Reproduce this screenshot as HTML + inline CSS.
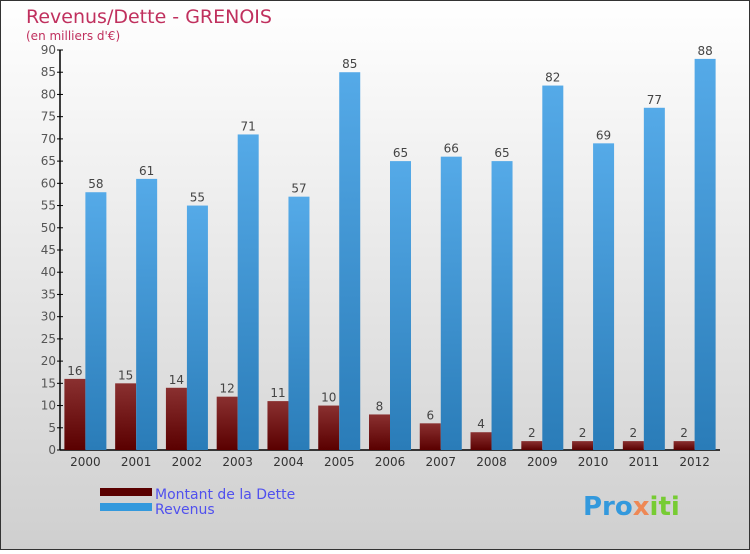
<!DOCTYPE html>
<html><head><meta charset="utf-8"><style>
body{margin:0}
#c{width:750px;height:550px;position:relative;font-family:"DejaVu Sans","Liberation Sans",sans-serif}
</style></head><body>
<div id="c">
<svg id="s" width="750" height="550" xmlns="http://www.w3.org/2000/svg">
<defs>
<linearGradient id="bg" x1="0" y1="0" x2="0" y2="1"><stop offset="0" stop-color="#ffffff"/><stop offset="1" stop-color="#cfcfcf"/></linearGradient>
<linearGradient id="gd" x1="0" y1="0" x2="0" y2="1"><stop offset="0" stop-color="#8a3030"/><stop offset="1" stop-color="#5a0000"/></linearGradient>
<linearGradient id="gr" x1="0" y1="0" x2="0" y2="1"><stop offset="0" stop-color="#55aae8"/><stop offset="1" stop-color="#2a7cb8"/></linearGradient>
</defs>
<rect x="0.5" y="0.5" width="749" height="549" fill="url(#bg)" stroke="#333"/>
<text x="26" y="23" font-size="19" fill="#c0305e">Revenus/Dette - GRENOIS</text>
<text x="26" y="40" font-size="12" fill="#c0305e">(en milliers d'€)</text>
<g id="axes"></g>
<g id="bars"></g>
<rect x="100" y="488" width="52" height="8" fill="#5a0000"/>
<text x="155" y="499" font-size="14" fill="#5050ee">Montant de la Dette</text>
<rect x="100" y="503" width="52" height="8" fill="#3399dd"/>
<text x="155" y="514" font-size="14" fill="#5050ee">Revenus</text>
<text x="583" y="515" font-size="26" font-weight="bold" fill="#3399dd">Pro<tspan fill="#e85">x</tspan><tspan fill="#7c3">iti</tspan></text>
</svg>
</div>
<script>
const years=["2000","2001","2002","2003","2004","2005","2006","2007","2008","2009","2010","2011","2012"];
const dette=[16,15,14,12,11,10,8,6,4,2,2,2,2];
const revenus=[58,61,55,71,57,85,65,66,65,82,69,77,88];
const yTicks=[0,5,10,15,20,25,30,35,40,45,50,55,60,65,70,75,80,85,90];
const NS="http://www.w3.org/2000/svg";
const x0=60,x1=720,y0=450,yTop=50,yMax=90;
const step=(x1-x0)/years.length;
function y(v){return y0-(v/yMax)*(y0-yTop);}
function gx(i){return x0+step*i+step/2;}
function mk(t,a,p){const e=document.createElementNS(NS,t);for(const k in a)e.setAttribute(k,a[k]);p.appendChild(e);return e;}
const ax=document.getElementById('axes'),bg=document.getElementById('bars');
const yl=mk('line',{x1:x0,y1:yTop,x2:x0,y2:y0,stroke:'#000','stroke-width':1.5},ax);


const xl=mk('line',{x1:x0,y1:y0,x2:x1,y2:y0,stroke:'#000','stroke-width':1.5},ax);


yTicks.forEach(v=>{
 const t=mk('line',{x1:x0-3,y1:y(v),x2:x0+3,y2:y(v),stroke:'#000'},ax);
 
 
 const l=mk('text',{x:x0-4,y:y(v)+4,'font-size':12,fill:'#555','text-anchor':'end'},ax);
 l.textContent=v;
 
 
});
const bw=21;
years.forEach((yr,i)=>{
 const c=gx(i);
 const l=mk('text',{x:c,y:y0+16,'font-size':12,fill:'#333','text-anchor':'middle'},ax);
 l.textContent=yr;
 
 
 const d=mk('rect',{x:c-bw,y:y(dette[i]),width:bw,height:y0-y(dette[i]),fill:'url(#gd)'},bg);
 
 
 const r=mk('rect',{x:c,y:y(revenus[i]),width:bw,height:y0-y(revenus[i]),fill:'url(#gr)'},bg);
 
 
 const dl=mk('text',{x:c-bw/2,y:y(dette[i])-4,'font-size':12,fill:'#444','text-anchor':'middle'},bg);
 dl.textContent=dette[i];
 
 
 const rl=mk('text',{x:c+bw/2,y:y(revenus[i])-4,'font-size':12,fill:'#444','text-anchor':'middle'},bg);
 rl.textContent=revenus[i];
 
 
});
</script>
</body></html>
